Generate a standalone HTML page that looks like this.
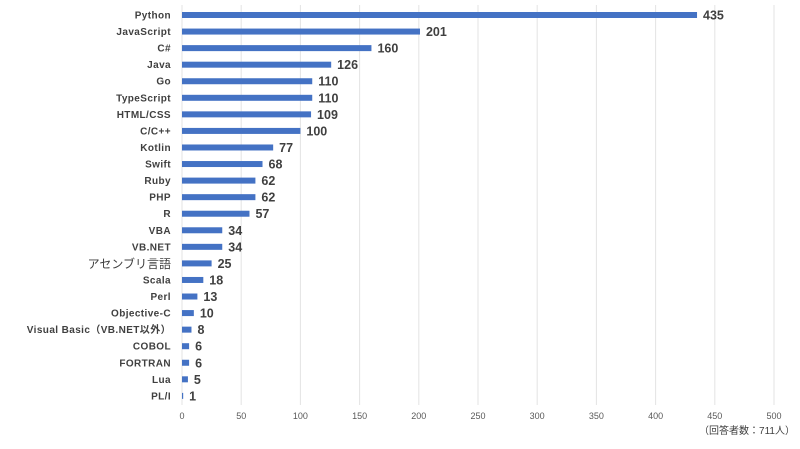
<!DOCTYPE html><html><head><meta charset="utf-8"><style>
body{margin:0;background:#fff;width:800px;height:444px;overflow:hidden;font-family:"Liberation Sans","Noto Sans CJK JP",sans-serif}
</style></head><body>
<svg width="800" height="444" xmlns="http://www.w3.org/2000/svg">
</svg>
<script>
const d=[["Python",435],["JavaScript",201],["C#",160],["Java",126],["Go",110],["TypeScript",110],["HTML/CSS",109],["C/C++",100],["Kotlin",77],["Swift",68],["Ruby",62],["PHP",62],["R",57],["VBA",34],["VB.NET",34],["アセンブリ言語",25],["Scala",18],["Perl",13],["Objective-C",10],["Visual Basic（VB.NET以外）",8],["COBOL",6],["FORTRAN",6],["Lua",5],["PL/I",1]];
const ns="http://www.w3.org/2000/svg",svg=document.querySelector('svg');
function el(t,a,txt){const e=document.createElementNS(ns,t);for(const k in a)e.setAttribute(k,a[k]);if(txt!=null)e.textContent=txt;svg.appendChild(e);return e;}
const x0=182,s=1.184;
for(let v=0;v<=500;v+=50){const x=x0+v*s;if(v>0)el('line',{x1:x,x2:x,y1:5,y2:405,stroke:'#e3e3e3'});
el('text',{x:x,y:419,'font-size':9,fill:'#595959','text-anchor':'middle'},v);}
el('line',{x1:x0,x2:x0,y1:5,y2:405,stroke:'#e3e3e3'});
d.forEach((r,i)=>{const y=15+i*16.56;
const jp=r[0]==="アセンブリ言語";
el('text',{x:171,y:y+(jp?4.5:3.5),'font-size':jp?12:10,'font-weight':jp?'normal':'bold',fill:'#404040','text-anchor':'end','letter-spacing':jp?0:0.4},r[0]);
const w=Math.max(r[1]*s,1);
el('rect',{x:x0,y:y-3,width:w,height:6,fill:'#4472C4'});
el('text',{x:x0+w+6,y:y+4.5,'font-size':12.5,'font-weight':'bold',fill:'#404040'},r[1]);});
el('text',{x:795,y:434,'font-size':10,fill:'#404040','text-anchor':'end'},'（回答者数：711人）');
</script>
</body></html>
